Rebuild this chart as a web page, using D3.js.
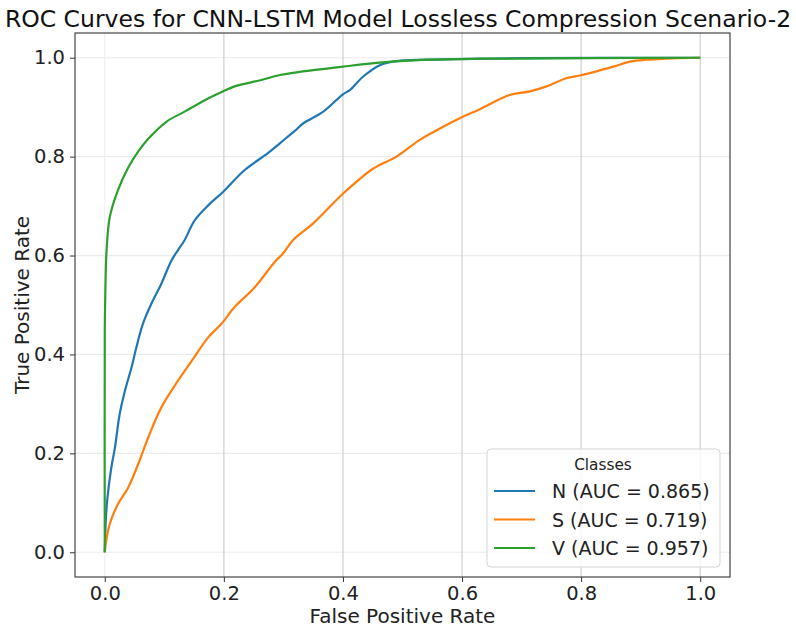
<!DOCTYPE html>
<html>
<head>
<meta charset="utf-8">
<script src="https://cdn.jsdelivr.net/npm/d3@7"></script>
<style>
  body { margin: 0; background: #fff; }
  svg { display: block; font-family: "DejaVu Sans", sans-serif; }
</style>
</head>
<body>
<svg id="chart" width="796" height="630"></svg>
<script>
// ROC points (fpr, tpr)
const classNames = ["N", "S", "V"]
const aucValues = [0.865, 0.719, 0.957]
const colors = ["#1f77b4", "#ff7f0e", "#2ca02c"]

const fprN = [0, 0.003, 0.011, 0.017, 0.025, 0.034, 0.045, 0.053, 0.064, 0.078, 0.095, 0.112, 0.123, 0.134, 0.151, 0.175, 0.199, 0.235, 0.274, 0.294, 0.319, 0.333, 0.367, 0.40, 0.412, 0.434, 0.462, 0.49, 0.546, 0.7, 1.0]
const tprN = [0, 0.09, 0.171, 0.211, 0.279, 0.327, 0.374, 0.414, 0.462, 0.502, 0.543, 0.590, 0.611, 0.631, 0.671, 0.703, 0.729, 0.773, 0.807, 0.827, 0.852, 0.867, 0.891, 0.926, 0.935, 0.962, 0.985, 0.993, 0.996, 0.999, 1.0]

const fprS = [0, 0.002, 0.008, 0.022, 0.039, 0.056, 0.073, 0.095, 0.123, 0.146, 0.174, 0.196, 0.218, 0.252, 0.286, 0.300, 0.316, 0.350, 0.40, 0.451, 0.49, 0.529, 0.563, 0.597, 0.63, 0.681, 0.714, 0.742, 0.776, 0.798, 0.854, 0.882, 0.91, 0.941, 1.0]
const tprS = [0, 0.02, 0.056, 0.097, 0.13, 0.178, 0.232, 0.293, 0.347, 0.387, 0.435, 0.462, 0.496, 0.536, 0.588, 0.605, 0.631, 0.665, 0.725, 0.776, 0.80, 0.834, 0.857, 0.878, 0.896, 0.925, 0.932, 0.942, 0.959, 0.964, 0.982, 0.992, 0.996, 0.998, 1.0]

const fprV = [0, 0, 0.001, 0.003, 0.0084, 0.022, 0.039, 0.056, 0.073, 0.104, 0.134, 0.168, 0.199, 0.218, 0.263, 0.294, 0.319, 0.40, 0.462, 0.546, 0.63, 1.0]
const tprV = [0, 0.45, 0.53, 0.61, 0.678, 0.732, 0.777, 0.81, 0.836, 0.871, 0.891, 0.914, 0.932, 0.942, 0.955, 0.965, 0.970, 0.982, 0.990, 0.996, 0.998, 1.0]

const xTicks = [0, 0.2, 0.4, 0.6, 0.8, 1.0]
const yTicks = [0, 0.2, 0.4, 0.6, 0.8, 1.0]

const series = [
  { name: classNames[0], auc: aucValues[0], color: colors[0], fpr: fprN, tpr: tprN },
  { name: classNames[1], auc: aucValues[1], color: colors[1], fpr: fprS, tpr: tprS },
  { name: classNames[2], auc: aucValues[2], color: colors[2], fpr: fprV, tpr: tprV }
]

const svg = d3.select("#chart")
const plotLeft = 75, plotRight = 730, plotTop = 33, plotBottom = 577

const x = d3.scaleLinear().domain([-0.05, 1.05]).range([plotLeft, plotRight])
const y = d3.scaleLinear().domain([-0.05, 1.05]).range([plotBottom, plotTop])

// grid
svg.append("g").selectAll("line")
  .data(yTicks).enter().append("line")
  .attr("x1", plotLeft).attr("x2", plotRight)
  .attr("y1", d => y(d)).attr("y2", d => y(d))
  .attr("stroke", "#ebebeb").attr("stroke-width", 1.2)

svg.append("g").selectAll("line")
  .data(xTicks).enter().append("line")
  .attr("y1", plotTop).attr("y2", plotBottom)
  .attr("x1", d => x(d)).attr("x2", d => x(d))
  .attr("stroke", d => d === 0 ? "#f0f0f0" : "#d0d0d0").attr("stroke-width", 1.2)

// curves
const line = d3.line()
  .x(d => x(d[0])).y(d => y(d[1]))
  .curve(d3.curveCatmullRom.alpha(0.5))
svg.append("g").selectAll("path")
  .data(series).enter().append("path")
  .attr("d", s => line(s.fpr.map((f, i) => [f, s.tpr[i]])))
  .attr("fill", "none")
  .attr("stroke", s => s.color)
  .attr("stroke-width", 2.2)
  .attr("stroke-linejoin", "round")

// axes
const xAxis = svg.append("g")
  .attr("transform", `translate(0,${plotBottom})`)
  .call(d3.axisBottom(x).tickValues(xTicks).tickFormat(d3.format(".1f")).tickSize(5).tickPadding(4))
const yAxis = svg.append("g")
  .attr("transform", `translate(${plotLeft},0)`)
  .call(d3.axisLeft(y).tickValues(yTicks).tickFormat(d3.format(".1f")).tickSize(5).tickPadding(5))

;[xAxis, yAxis].forEach(a => {
  a.select(".domain").remove()
  a.selectAll(".tick line").attr("stroke", "#333")
  a.selectAll(".tick text").attr("font-size", "19.5px").attr("fill", "#222")
    .attr("font-family", "DejaVu Sans")
})

// frame
svg.append("rect")
  .attr("x", plotLeft).attr("y", plotTop)
  .attr("width", plotRight - plotLeft).attr("height", plotBottom - plotTop)
  .attr("fill", "none").attr("stroke", "#444").attr("stroke-width", 1.2)

// labels
svg.append("text")
  .attr("x", (plotLeft + plotRight) / 2).attr("y", 623)
  .attr("text-anchor", "middle").attr("font-size", "20px").attr("fill", "#222")
  .text("False Positive Rate")

svg.append("text")
  .attr("transform", `translate(29,${(plotTop + plotBottom) / 2}) rotate(-90)`)
  .attr("text-anchor", "middle").attr("font-size", "20px").attr("fill", "#222")
  .text("True Positive Rate")

svg.append("text")
  .attr("x", 398).attr("y", 27)
  .attr("text-anchor", "middle").attr("font-size", "23.5px").attr("fill", "#111")
  .text("ROC Curves for CNN-LSTM Model Lossless Compression Scenario-2")

// legend
const lg = svg.append("g")
lg.append("rect")
  .attr("x", 487).attr("y", 449).attr("width", 233).attr("height", 118)
  .attr("rx", 4).attr("fill", "white").attr("fill-opacity", 0.8)
  .attr("stroke", "#d5d5d5")
lg.append("text")
  .attr("x", 603).attr("y", 470)
  .attr("text-anchor", "middle").attr("font-size", "15.3px").attr("fill", "#222")
  .text("Classes")

const items = lg.selectAll("g.item").data(series).enter().append("g")
  .attr("transform", (d, i) => `translate(0,${491 + i * 28.5})`)
items.append("line")
  .attr("x1", 494).attr("x2", 535)
  .attr("stroke", d => d.color).attr("stroke-width", 2.2)
items.append("text")
  .attr("x", 552).attr("y", 7)
  .attr("font-size", "19px").attr("fill", "#222")
  .text(d => `${d.name} (AUC = ${d.auc.toFixed(3)})`)
</script>
</body>
</html>
